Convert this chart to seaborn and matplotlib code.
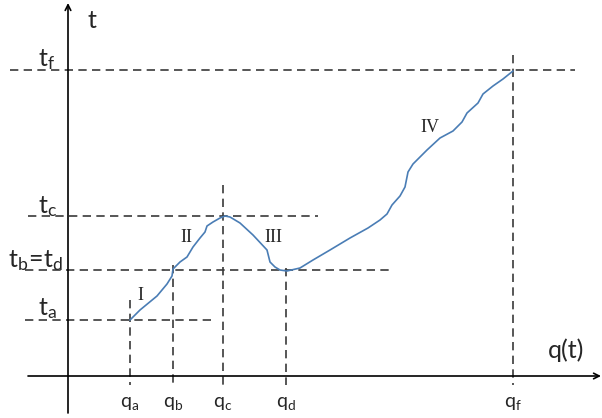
import matplotlib
matplotlib.use('Agg')
import matplotlib.pyplot as plt
import seaborn as sns
import pandas as pd

# diagram drawn in a 602 x 418 coordinate box (y grows downward)
curve_q = [130, 140, 157, 167, 172, 173, 180, 187, 193, 200, 205, 207, 213, 220, 225,
           230, 240, 253, 267, 270, 275, 280, 287, 300, 313, 330, 350, 368, 380, 387,
           392, 400, 405, 408, 413, 427, 440, 453, 462, 467, 478, 483, 493, 503, 513]
curve_t = [320, 310, 296, 284, 276, 269, 262, 257, 247, 238, 232, 226, 222, 218, 216,
           217, 223, 235, 250, 262, 267, 270, 271, 268, 260, 250, 238, 228, 220, 214,
           205, 196, 187, 172, 164, 150, 138, 131, 122, 113, 103, 94, 86, 79, 71]

# guide lines: (position, start, end)
h_guides = [(70, 10, 575), (216, 28, 318), (270, 25, 390), (320, 25, 215)]
v_guides = [(130, 300, 385), (173, 265, 385), (223, 185, 385), (286, 268, 385), (513, 55, 385)]

t_labels = [r'$\mathregular{t_f}$', r'$\mathregular{t_c}$', r'$\mathregular{t_b\!=\!t_d}$', r'$\mathregular{t_a}$']
t_label_pos = [(38, 60), (38, 207), (8, 261), (38, 309)]
q_labels = ['a', 'b', 'c', 'd', 'f']
q_label_x = [130, 173, 223, 286, 513]
roman = ['I', 'II', 'III', 'IV']
roman_pos = [(140, 295), (186, 238), (273, 238), (430, 128)]

sns.set_style('white')
plt.rcParams['font.family'] = ['Lato', 'DejaVu Sans']

fig = plt.figure(figsize=(6.02, 4.18), dpi=100)
ax = fig.add_axes([0, 0, 1, 1])

dash = (0, (5, 3.2))
for y, x0, x1 in h_guides:
    ax.plot([x0, x1], [y, y], color='#3a3a3a', lw=1.2, linestyle=dash)
for x, y0, y1 in v_guides:
    ax.plot([x, x], [y0, y1], color='#3a3a3a', lw=1.2, linestyle=dash)

df = pd.DataFrame({'q': curve_q, 't': curve_t})
sns.lineplot(data=df, x='q', y='t', sort=False, color='#4a7db5', lw=1.2, ax=ax)
ax.set_xlim(0, 602)
ax.set_ylim(418, 0)
ax.axis('off')

# axes with arrows
ax.annotate('', xy=(68, 3), xytext=(68, 413), annotation_clip=False,
            arrowprops=dict(arrowstyle='->', color='black', lw=1.2, shrinkA=0, shrinkB=0))
ax.annotate('', xy=(601, 376), xytext=(28, 376), annotation_clip=False,
            arrowprops=dict(arrowstyle='->', color='black', lw=1.2, shrinkA=0, shrinkB=0))

ax.text(88, 20, 't', fontsize=18, ha='left', va='center')
ax.text(548, 350, 'q(t)', fontsize=18, ha='left', va='center')
for lab, (x, y) in zip(t_labels, t_label_pos):
    ax.text(x, y, lab, fontsize=18, ha='left', va='center')
for lab, x in zip(q_labels, q_label_x):
    ax.text(x, 404, r'$\mathregular{q_%s}$' % lab, fontsize=14, ha='center', va='center')
for lab, (x, y) in zip(roman, roman_pos):
    ax.text(x, y, lab, fontsize=13, ha='center', va='center', family='Liberation Serif')

fig.savefig('out.png', dpi=100)
